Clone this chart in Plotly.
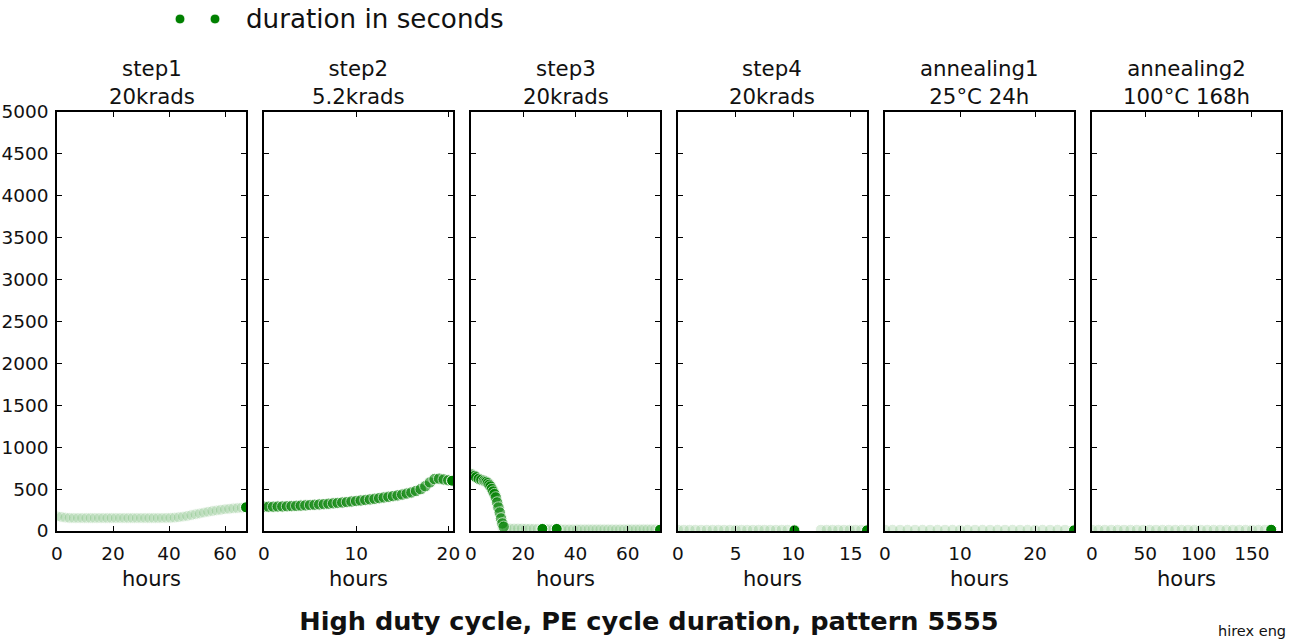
import plotly.graph_objects as go

W, H = 1290, 640
GREEN = "#008000"
FONT = "DejaVu Sans"

# ---------------- data ----------------
panel_titles = ["step1<br>20krads", "step2<br>5.2krads", "step3<br>20krads",
                "step4<br>20krads", "annealing1<br>25°C 24h", "annealing2<br>100°C 168h"]
x_max = [67.5, 20.5, 72.3, 16.4, 25.2, 177.2]
x_ticks = [[0, 20, 40, 60], [0, 10, 20], [0, 20, 40, 60], [0, 5, 10, 15], [0, 10, 20], [0, 50, 100, 150]]
y_ticks = [0, 500, 1000, 1500, 2000, 2500, 3000, 3500, 4000, 4500, 5000]

# step1
step1_faint_h = [0, 1.5, 3, 4.5, 6, 7.5, 9, 10.5, 12, 13.5, 15, 16.5, 18, 19.5, 21, 22.5, 24, 25.5,
                 27, 28.5, 30, 31.5, 33, 34.5, 36, 37.5, 39, 40.5, 42, 43.5, 45, 46.5, 48, 49.5,
                 51, 52.5, 54, 55.5, 57, 58.5, 60, 61.5, 63, 64.5, 66]
step1_faint_s = [175, 168, 160, 156, 155, 155, 155, 155, 155, 155, 155, 155, 155, 155, 155, 155, 155, 155,
                 155, 155, 155, 155, 155, 155, 155, 155, 156, 157, 160, 165, 172, 180, 190, 200,
                 210, 220, 230, 238, 246, 253, 260, 265, 270, 274, 278]
step1_main_h = []
step1_main_s = []
step1_dark_h = [67.5]
step1_dark_s = [283]

# step2
step2_faint_h = []
step2_faint_s = []
step2_main_h = [0, 0.5, 1, 1.5, 2, 2.5, 3, 3.5, 4, 4.5, 5, 5.5, 6, 6.5, 7, 7.5, 8, 8.5, 9, 9.5,
                10, 10.5, 11, 11.5, 12, 12.5, 13, 13.5, 14, 14.5, 15, 15.5, 16, 16.5, 17, 17.5,
                18, 18.5, 19, 19.5, 20]
step2_main_s = [290, 290, 290, 292, 293, 295, 297, 300, 303, 306, 310, 313, 317, 320, 325, 330, 335, 340, 345, 352,
                358, 364, 370, 377, 384, 392, 400, 408, 416, 425, 435, 447, 460, 478, 500, 535,
                580, 620, 625, 615, 605]
step2_dark_h = [20.4]
step2_dark_s = [600]

# step3
step3_faint_h = [12, 13.5, 15, 16.5, 18, 19.5, 21, 22.5, 24, 25.5, 27, 28.5, 30, 31.5, 33, 34.5, 36,
                 37.5, 39, 40.5, 42, 43.5, 45, 46.5, 48, 49.5, 51, 52.5, 54, 55.5, 57, 58.5, 60,
                 61.5, 63, 64.5, 66, 67.5, 69, 70.5, 72]
step3_faint_s = [40, 35, 30, 30, 30, 30, 28, 28, 26, 25, 25, 24, 22, 22, 22, 20, 20,
                 20, 20, 20, 20, 20, 20, 20, 20, 20, 20, 20, 20, 20, 20, 20, 20,
                 20, 20, 20, 20, 20, 20, 20, 20]
step3_main_h = [0, 0.5, 1, 1.5, 2, 3, 4, 5, 5.5, 6, 6.5, 7, 7.5, 8, 8.5, 9, 9.5, 10, 10.5, 11, 11.5, 12, 12.5]
step3_main_s = [680, 670, 660, 655, 640, 620, 610, 600, 590, 585, 570, 550, 530, 500, 470, 440, 400, 340, 280,
                220, 150, 90, 50]
step3_dark_h = [27.3, 32.8, 72.3]
step3_dark_s = [25, 25, 15]

# step4
step4_faint_h = [0, 0.5, 1, 1.5, 2, 2.5, 3, 3.5, 4, 4.5, 5, 5.5, 6, 6.5, 7, 7.5, 8, 8.5, 9, 9.5,
                 12.4, 12.9, 13.4, 13.9, 14.4, 14.9, 15.4, 15.9]
step4_faint_s = [15, 15, 15, 15, 15, 15, 15, 15, 15, 15, 15, 15, 15, 15, 15, 15, 15, 15, 15, 15,
                 15, 15, 15, 15, 15, 15, 15, 15]
step4_main_h = []
step4_main_s = []
step4_dark_h = [10.1, 16.4]
step4_dark_s = [8, 8]

# annealing1
ann1_faint_h = [0, 1, 2, 3, 4, 5, 6, 7, 8, 9, 10, 11, 12, 13, 14, 15, 16, 17, 18, 19, 20, 21, 22, 23, 24]
ann1_faint_s = [15, 15, 15, 15, 15, 15, 15, 15, 15, 15, 15, 15, 15, 15, 15, 15, 15, 15, 15, 15, 15, 15, 15, 15, 15]
ann1_main_h = []
ann1_main_s = []
ann1_dark_h = [25.2]
ann1_dark_s = [8]

# annealing2
ann2_faint_h = [0, 6, 12, 18, 24, 30, 36, 42, 48, 54, 60, 66, 72, 78, 84, 90, 96, 102, 108, 114, 120,
                126, 132, 138, 144, 150, 156, 162]
ann2_faint_s = [15, 15, 15, 15, 15, 15, 15, 15, 15, 15, 15, 15, 15, 15, 15, 15, 15, 15, 15, 15, 15,
                15, 15, 15, 15, 15, 15, 15]
ann2_main_h = []
ann2_main_s = []
ann2_dark_h = [168]
ann2_dark_s = [15]

panels = [
    (step1_faint_h, step1_faint_s, step1_main_h, step1_main_s, step1_dark_h, step1_dark_s),
    (step2_faint_h, step2_faint_s, step2_main_h, step2_main_s, step2_dark_h, step2_dark_s),
    (step3_faint_h, step3_faint_s, step3_main_h, step3_main_s, step3_dark_h, step3_dark_s),
    (step4_faint_h, step4_faint_s, step4_main_h, step4_main_s, step4_dark_h, step4_dark_s),
    (ann1_faint_h, ann1_faint_s, ann1_main_h, ann1_main_s, ann1_dark_h, ann1_dark_s),
    (ann2_faint_h, ann2_faint_s, ann2_main_h, ann2_main_s, ann2_dark_h, ann2_dark_s),
]

# ---------------- figure ----------------
fig = go.Figure()
panel_left = [57, 264, 471, 678, 885, 1092]
panel_w = 189
plot_top, plot_bot = 112, 531


def px_x(v):
    return v / W


def px_y(v):
    return 1 - v / H


layout_axes = {}
annotations = []
for i, (fh, fs, mh, ms, dh, ds) in enumerate(panels):
    n = i + 1
    xa = "x" if n == 1 else f"x{n}"
    ya = "y" if n == 1 else f"y{n}"
    for hx, sy, op, sz in ((fh, fs, 0.13, 11), (mh, ms, 0.6, 11.5), (dh, ds, 1.0, 11)):
        if not hx:
            continue
        fig.add_trace(go.Scatter(
            x=hx, y=sy, mode="markers", xaxis=xa, yaxis=ya, showlegend=False,
            name="duration in seconds",
            marker=dict(color=GREEN, size=sz, opacity=op, line=dict(color="white", width=1)),
            cliponaxis=True, hoverinfo="x+y"))
    left = panel_left[i]
    xkey = "xaxis" if n == 1 else f"xaxis{n}"
    ykey = "yaxis" if n == 1 else f"yaxis{n}"
    layout_axes[xkey] = dict(
        domain=[px_x(left), px_x(left + panel_w)], anchor=ya, range=[0, x_max[i]],
        tickvals=x_ticks[i], ticks="inside", ticklen=5, tickwidth=1, tickcolor="black",
        showline=True, linecolor="black", linewidth=1.5, mirror="ticks", automargin=False,
        showgrid=False, zeroline=False, ticklabelstandoff=5,
        tickfont=dict(family=FONT, size=18.5, color="#111"),
        title=dict(text="hours", font=dict(family=FONT, size=21, color="#111"), standoff=8))
    layout_axes[ykey] = dict(
        domain=[px_y(plot_bot), px_y(plot_top)], anchor=xa, range=[0, 5000],
        tickvals=y_ticks, ticks="inside", ticklen=5, tickwidth=1, tickcolor="black",
        showline=True, linecolor="black", linewidth=1.5, mirror="ticks", automargin=False,
        showgrid=False, zeroline=False, showticklabels=(n == 1), ticklabelstandoff=3,
        tickfont=dict(family=FONT, size=18.5, color="#111"))
    annotations.append(dict(
        text=panel_titles[i], xref="paper", yref="paper", x=px_x(left + panel_w / 2), y=px_y(83),
        xanchor="center", yanchor="middle", showarrow=False,
        font=dict(family=FONT, size=21.3, color="#111")))

# legend imitation
annotations.append(dict(text="duration in seconds", xref="paper", yref="paper",
                        x=px_x(244), y=px_y(19), xanchor="left", yanchor="middle", showarrow=False,
                        font=dict(family=FONT, size=26.2, color="#111")))
annotations.append(dict(text="hirex eng", xref="paper", yref="paper",
                        x=px_x(1288), y=px_y(631), xanchor="right", yanchor="middle", showarrow=False,
                        font=dict(family=FONT, size=14.5, color="#111")))
shapes = []
for cx in (180, 215):
    shapes.append(dict(type="circle", xref="paper", yref="paper",
                       x0=px_x(cx - 5), x1=px_x(cx + 5), y0=px_y(19 + 5), y1=px_y(19 - 5),
                       fillcolor=GREEN, line=dict(color="white", width=1)))

fig.update_layout(
    width=W, height=H, autosize=False,
    margin=dict(l=0, r=0, t=0, b=0, autoexpand=False),
    paper_bgcolor="white", plot_bgcolor="white",
    showlegend=False,
    title=dict(text="<b>High duty cycle, PE cycle duration, pattern 5555</b>",
               x=px_x(649), xanchor="center", y=px_y(621), yanchor="middle", xref="paper", yref="paper",
               font=dict(family=FONT, size=25.6, color="#111")),
    annotations=annotations, shapes=shapes,
    **layout_axes)

fig.write_html("out.html", config={"displayModeBar": False},
               post_script="document.body.style.margin='0';document.body.style.overflow='hidden';")
